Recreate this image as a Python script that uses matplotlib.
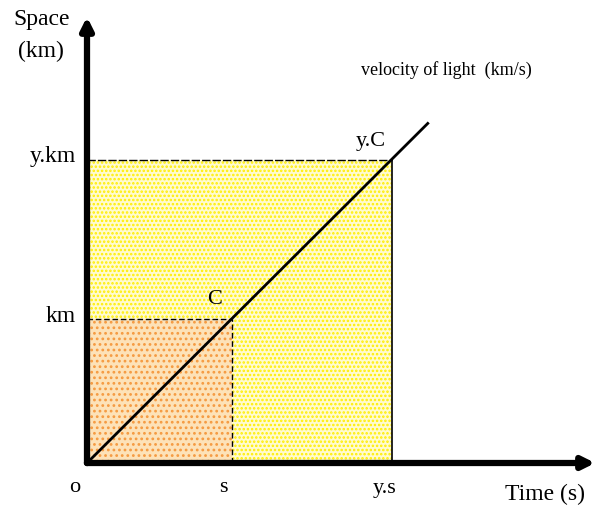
import matplotlib.pyplot as plt
from matplotlib.patches import Rectangle

plt.rcParams['font.family'] = ['Liberation Serif', 'DejaVu Serif']
plt.rcParams['hatch.linewidth'] = 1.2

# valores del diagrama (unidades: s = 1, km = 1)
t_s = 1.0          # tiempo "s"
t_ys = 2.1         # tiempo "y.s"
d_km = 1.0         # espacio "km"
d_ykm = 2.1        # espacio "y.km"
linea_x = [0, 2.35]
linea_y = [0, 2.35]

# escala en pixeles
px_x = 145.0
px_y = 144.5
W, H = 605, 508
ox, oy = 87, 463   # origen en pixeles (desde arriba)


def pos(x, y):
    # pixel de la imagen -> coordenadas de datos
    return (x - ox) / px_x, (oy - y) / px_y


fig = plt.figure(figsize=(W / 100, H / 100), dpi=100)
ax = fig.add_axes([0, 0, 1, 1])
ax.set_xlim(-ox / px_x, (W - ox) / px_x)
ax.set_ylim(-(H - oy) / px_y, oy / px_y)
ax.axis('off')

# zonas punteadas
ax.add_patch(Rectangle((0, 0), t_ys, d_ykm, facecolor='#fffbd0', edgecolor='#ffee00',
                       hatch='....', lw=0, zorder=1))
ax.add_patch(Rectangle((0, 0), t_s, d_km, facecolor='#fde2b8', edgecolor='#f59a40',
                       hatch='...', lw=0, zorder=2))

# lineas de referencia
ax.plot([0, t_s], [d_km, d_km], color='black', lw=1, ls=(0, (4, 2)), zorder=3)
ax.plot([t_s, t_s], [0, d_km], color='black', lw=1, ls=(0, (4, 2)), zorder=3)
ax.plot([0, t_ys], [d_ykm, d_ykm], color='black', lw=1, ls=(0, (6, 1.5)), zorder=3)
ax.plot([t_ys, t_ys], [0, d_ykm], color='black', lw=1.2, zorder=3)

# velocidad de la luz
ax.plot(linea_x, linea_y, color='black', lw=2, zorder=4)

# ejes con flechas
ax.annotate('', xy=pos(598, oy), xytext=(-0.02, 0),
            arrowprops=dict(arrowstyle='-|>', lw=4.5, color='black', mutation_scale=18), zorder=5)
ax.annotate('', xy=pos(ox, 14), xytext=(0, -0.02),
            arrowprops=dict(arrowstyle='-|>', lw=4.5, color='black', mutation_scale=18), zorder=5)

ax.text(*pos(42, 20), 'Space', ha='center', va='center', fontsize=17)
ax.text(*pos(41, 51), '(km)', ha='center', va='center', fontsize=17)
ax.text(-11 / px_x, d_ykm + 3 / px_y, 'y.km', ha='right', va='center', fontsize=17)
ax.text(-11 / px_x, d_km + 2 / px_y, 'km', ha='right', va='center', fontsize=17)
ax.text(*pos(75, 488), 'o', ha='center', va='center', fontsize=16)
ax.text(*pos(223, 488), 's', ha='center', va='center', fontsize=16)
ax.text(*pos(385, 488), 'y.s', ha='center', va='center', fontsize=16)
ax.text(*pos(545, 494), 'Time (s)', ha='center', va='center', fontsize=17)
ax.text(*pos(361, 70), 'velocity of light  (km/s)', ha='left', va='center', fontsize=13)
ax.text(*pos(215, 300), 'C', ha='center', va='center', fontsize=16)
ax.text(*pos(371, 142), 'y.C', ha='center', va='center', fontsize=16)

fig.savefig('out.png', dpi=100)
